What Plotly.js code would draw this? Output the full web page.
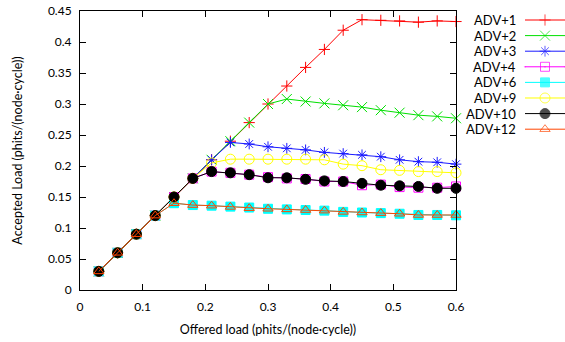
<!DOCTYPE html>
<html>
<head>
<meta charset="utf-8">
<script src="https://cdn.plot.ly/plotly-3.0.1.min.js"></script>
<style>html,body{margin:0;padding:0;background:#fff;}#chart{width:565px;height:342px;}</style>
</head>
<body>
<div id="chart"></div>
<script>
// ---- data ----
var offered = [0.03,0.06,0.09,0.12,0.15,0.18,0.21,0.24,0.27,0.30,0.33,0.36,0.39,0.42,0.45,0.48,0.51,0.54,0.57,0.60];
var seriesNames = ["ADV+1","ADV+2","ADV+3","ADV+4","ADV+6","ADV+9","ADV+10","ADV+12"];
var adv1  = [0.03,0.06,0.09,0.12,0.15,0.18,0.21,0.24,0.27,0.30,0.329,0.359,0.388,0.419,0.436,0.435,0.434,0.432,0.434,0.433];
var adv2  = [0.03,0.06,0.09,0.12,0.15,0.18,0.21,0.24,0.27,0.30,0.308,0.304,0.301,0.298,0.295,0.290,0.286,0.282,0.280,0.277];
var adv3  = [0.03,0.06,0.09,0.12,0.15,0.18,0.21,0.238,0.2355,0.231,0.2285,0.226,0.222,0.220,0.218,0.215,0.210,0.207,0.206,0.203];
var adv4  = [0.03,0.06,0.09,0.12,0.15,0.18,0.191,0.189,0.186,0.182,0.180,0.179,0.175,0.175,0.169,0.170,0.166,0.165,0.165,0.167];
var adv6  = [0.03,0.06,0.09,0.12,0.14,0.137,0.136,0.1345,0.133,0.131,0.130,0.129,0.128,0.126,0.125,0.124,0.123,0.121,0.121,0.1205];
var adv9  = [0.03,0.06,0.09,0.12,0.15,0.18,0.205,0.211,0.211,0.211,0.211,0.211,0.210,0.203,0.2005,0.194,0.193,0.191,0.191,0.189];
var adv10 = [0.03,0.06,0.09,0.12,0.15,0.18,0.191,0.189,0.186,0.181,0.181,0.1785,0.176,0.175,0.172,0.169,0.168,0.167,0.164,0.164];
var adv12 = [0.03,0.06,0.09,0.12,0.14,0.137,0.136,0.134,0.132,0.131,0.130,0.129,0.128,0.126,0.125,0.124,0.123,0.121,0.121,0.121];
var seriesValues = [adv1, adv2, adv3, adv4, adv6, adv9, adv10, adv12];

// ---- styles ----
var colors  = ["#ff0000","#00e000","#1a1aff","#ff00ff","#00ffff","#ffff00","#000000","#ff4500"];
var symbols = ["cross-thin","x-thin","asterisk","square-open","square","circle-open","circle","triangle-up-open"];
var sizes   = [8,10,9,9,9,10,10,9];
var legendSymbols = ["cross-thin","x-thin","asterisk","square-open-dot","square","circle-open","circle","triangle-up-open"];

var FONT = "Lato, 'Open Sans', sans-serif";
var traces = [];
for (var i = 0; i < seriesNames.length; i++) {
  traces.push({
    type: "scatter", mode: "lines+markers", name: seriesNames[i],
    x: offered, y: seriesValues[i], cliponaxis: false, showlegend: false,
    line: {color: colors[i], width: 1},
    marker: {symbol: symbols[i], size: sizes[i], color: colors[i], line: {color: colors[i], width: 1}}
  });
}
// manual gnuplot-style legend (text left, sample right) on a hidden helper axis
var annotations = [];
for (var j = 0; j < seriesNames.length; j++) {
  traces.push({
    type: "scatter", mode: "lines+markers", xaxis: "x2", yaxis: "y2", showlegend: false, hoverinfo: "skip",
    x: [0, 0.5, 1], y: [j, j, j], cliponaxis: false,
    line: {color: colors[j], width: 1},
    marker: {symbol: legendSymbols[j], size: [0, sizes[j], 0], color: colors[j], line: {color: colors[j], width: 1}}
  });
  annotations.push({
    xref: "paper", yref: "y2", x: (517 - 80) / 485, y: j, xanchor: "right", yanchor: "middle",
    text: seriesNames[j], showarrow: false, borderpad: 0, font: {family: FONT, size: 13, color: "#000"}
  });
}

var axisCommon = {
  ticks: "inside", ticklen: 6, tickcolor: "#000", tickwidth: 1, mirror: "ticks",
  showline: true, linecolor: "#000", linewidth: 1, showgrid: false, zeroline: false,
  tickfont: {family: FONT, size: 12, color: "#000"}
};
var layout = {
  width: 565, height: 342, paper_bgcolor: "#fff", plot_bgcolor: "#fff",
  margin: {l: 80, r: 0, t: 11, b: 52},
  showlegend: false,
  font: {family: FONT, color: "#000"},
  xaxis: Object.assign({}, axisCommon, {
    domain: [0, 376 / 485], range: [0, 0.6], dtick: 0.1, tick0: 0, ticklabelstandoff: 6,
    title: {text: "Offered load (phits/(node·cycle))", font: {family: FONT, size: 12.5, color: "#000"}, standoff: 11}
  }),
  yaxis: Object.assign({}, axisCommon, {
    range: [0, 0.45], dtick: 0.05, tick0: 0, ticklabelstandoff: 5, automargin: false,
    title: {text: "Accepted Load (phits/(node·cycle))", font: {family: FONT, size: 12.5, color: "#000"}, standoff: 22}
  }),
  xaxis2: {domain: [445 / 485, 1], anchor: "y2", range: [0, 1], visible: false, fixedrange: true},
  yaxis2: {domain: [0, 1], anchor: "x2", range: [17.31, -0.577], visible: false, fixedrange: true},
  annotations: annotations
};
Plotly.newPlot("chart", traces, layout, {displayModeBar: false, staticPlot: true});
</script>
</body>
</html>
